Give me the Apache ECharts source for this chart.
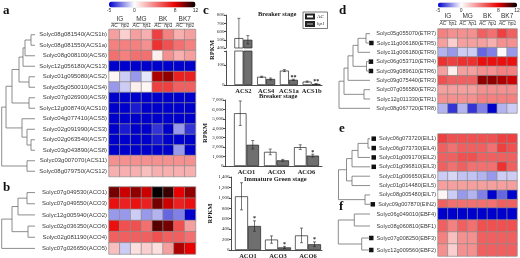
<!DOCTYPE html>
<html>
<head>
<meta charset="utf-8">
<script src="https://cdn.jsdelivr.net/npm/echarts@6/dist/echarts.min.js"></script>
<style>html,body{margin:0;padding:0;background:#fff}#chart{width:520px;height:258px}</style>
</head>
<body>
<div id="chart"></div>
<script>
// ---- data ----
var stageCols = ['AC', 'hp1', 'AC', 'hp1', 'AC', 'hp1', 'AC', 'hp1'];
var stageGroups = ['IG', 'MG', 'BK', 'BK7'];
var colorTicks = [-5, 0, 8, 12];

var acsGenes = ['Solyc08g081540(ACS1b)', 'Solyc08g081550(ACS1a)', 'Solyc08g008100(ACS6)', 'Solyc12g056180(ACS13)',
  'Solyc01g095080(ACS2)', 'Solyc05g050010(ACS4)', 'Solyc07g026900(ACS9)', 'Solyc12g008740(ACS10)',
  'Solyc04g077410(ACS5)', 'Solyc02g091990(ACS3)', 'Solyc02g063540(ACS7)', 'Solyc03g043890(ACS8)',
  'Solyc03g007070(ACS11)', 'Solyc08g079750(ACS12)'];
var acsValues = [
  [3, 1.5, 3, 2.5, 6, 4, 2.5, 3],
  [4, 4, 4, 3.5, 6.5, 5.5, 4.5, 4],
  [4.5, 4, 4.5, 4.5, 0.5, 3.5, 2.5, 3],
  [-5, -5, -5, -5, -5, -5, -5, -5],
  [0.3, -1, -2, -0.5, 9, 9.5, 7, 7],
  [-2, -1, 0.5, 0.3, 6, 6, 5, 5],
  [-5, -5, -5, -5, -5, -5, -5, -5],
  [-5, -5, -4.5, -5, -5, -5, -5, -5],
  [-5, -5, -5, -5, -5, -5, -5, -5],
  [-5, -4.5, -5, -5, -4, -5, -2, -4],
  [-5, -5, -5, -5, -4.5, -5, -5, -5],
  [-5, -5, -5, -5, -5, -5, -2, -5],
  [3.5, 3.5, 3.5, 3.5, 3.5, 3.5, 3.5, 3.5],
  [2.5, 2.5, 2.5, 2, 2.5, 2.5, 2.5, 2.5]
];
// [node, node, join depth]; leaves are 0..n-1, each join adds a node
var acsTree = [[0, 1, 30], [14, 2, 24], [15, 3, 22], [4, 5, 28], [16, 17, 18], [6, 7, 28], [18, 19, 11],
  [10, 11, 30], [9, 21, 26], [8, 22, 21], [20, 23, 5], [12, 13, 26], [24, 25, 0.7]];

var acoGenes = ['Solyc07g049530(ACO1)', 'Solyc07g049550(ACO3)', 'Solyc12g005940(ACO2)',
  'Solyc02g036350(ACO6)', 'Solyc02g081190(ACO4)', 'Solyc07g026650(ACO5)'];
var acoValues = [
  [10, 8.5, 9.5, 8.5, 12, 11, 8, 9.5],
  [7.5, 7, 7.5, 7, 10, 8.5, 7, 7.5],
  [-2, -2, -1, -2, -1.5, -3, -2.5, -5],
  [7.5, 5.5, 5.5, 4.5, 10.5, 10, 5.5, 3],
  [5, 5, 5, 5, 5.5, 5, 5, 4.5],
  [2, -1, 1, 1.5, 1, 3, 9, 8]
];
var acoTree = [[0, 1, 26], [6, 2, 17], [3, 4, 27], [7, 8, 11], [9, 5, 0.7]];

var etrGenes = ['Solyc05g055070(ETR7)', 'Solyc11g006180(ETR5)', 'Solyc11g006180(ETR9)', 'Solyc06g053710(ETR4)',
  'Solyc09g089610(ETR6)', 'Solyc09g075440(ETR3)', 'Solyc07g056580(ETR2)', 'Solyc12g011330(ETR1)',
  'Solyc08g067720(ETR8)'];
var etrMarked = [false, true, false, true, true, false, false, false, false];
var etrValues = [
  [4, 3.5, 3.5, 3.5, 5, 4.5, 6, 5],
  [3, 1.5, 3, 3, 3, 2.5, 3.5, 3.5],
  [-1.5, -2, -1, -1, -3, -2.5, 0.2, -2],
  [6.5, 6, 6.5, 6.5, 7.5, 7.5, 7.5, 7.5],
  [3, 0.5, 3, 3, 3.5, 3.5, 4, 4],
  [5.5, 5, 5, 5, 9.5, 9.5, 9, 8.5],
  [3, 3, 3, 3, 3.5, 3.5, 3.5, 3.5],
  [3.5, 3.5, 3.5, 3.5, 4, 4, 4, 4],
  [-1.5, -4, -1.5, -4, -2.5, -5, -1.5, -1]
];
var etrTree = [[0, 1, 30], [9, 2, 22], [3, 4, 30.5], [10, 11, 17], [12, 5, 12], [6, 7, 28], [13, 14, 8], [15, 8, 3]];

var eilGenes = ['Solyc06g073720(EIL1)', 'Solyc06g073730(EIL4)', 'Solyc01g009170(EIL2)', 'Solyc01g096810(EIL3)',
  'Solyc01g006650(EIL6)', 'Solyc01g014480(EIL5)', 'Solyc08g005480(EIL7)', 'Solyc09g007870(EIN2)'];
var eilMarked = [true, true, true, true, false, false, false, true];
var eilValues = [
  [6, 5.5, 5.5, 5.5, 5.5, 5.5, 6, 6],
  [5, 4.5, 5, 5, 5, 4.5, 6, 5.5],
  [5, 5, 5.5, 5.5, 5, 5, 5, 5],
  [5, 4.5, 5, 4.5, 4.5, 4.5, 6.5, 5],
  [-1, -0.8, -1.2, -1.2, -1.5, -2, -1, -1],
  [3, 3, 3, 3, 3, 3, 3, 3],
  [0.3, -1, -2, -1.5, -2.5, -5, -3, -5],
  [5, 4.5, 4.5, 4.5, 4.5, 4.5, 5, 5]
];
var eilTree = [[0, 1, 32], [8, 2, 22], [9, 3, 16], [4, 5, 16], [10, 11, 10.5], [6, 7, 29], [12, 13, 2.5]];

var ebfGenes = ['Solyc06g049010(EBF4)', 'Solyc08g060810(EBF1)', 'Solyc07g008250(EBF3)', 'Solyc12g009560(EBF2)'];
var ebfMarked = [false, false, true, true];
var ebfValues = [
  [-5, -5, -5, -5, -5, -5, -5, -5],
  [5, 4, 5, 4.5, 5.5, 5.5, 5.5, 5.5],
  [4, 2, 3.5, 3.5, 5, 5, 5, 5],
  [3.5, 1.5, 3.5, 3.5, 5, 5, 5, 5]
];
var ebfTree = [[0, 1, 18.3], [2, 3, 25.7], [4, 5, 2.3]];

var acsBarCats = ['ACS2', 'ACS4', 'ACS1a', 'ACS1b'];
var acsBarAC = [520, 41, 72, 17];
var acsBarHp1 = [500, 30, 26, 5];
var acsBarACErr = [240, 3, 5, 3];
var acsBarHp1Err = [50, 5, 3, 2];
var acsBarStars = ['', '', '**', '**'];

var acoBkCats = ['ACO1', 'ACO3', 'ACO6'];
var acoBkAC = [5600, 1500, 2000];
var acoBkHp1 = [2250, 600, 1100];
var acoBkACErr = [1300, 300, 250];
var acoBkHp1Err = [450, 100, 150];
var acoBkStars = ['', '', '*'];

var acoIgCats = ['ACO1', 'ACO3', 'ACO6'];
var acoIgAC = [1030, 200, 280];
var acoIgHp1 = [460, 50, 110];
var acoIgACErr = [260, 70, 140];
var acoIgHp1Err = [100, 20, 45];
var acoIgStars = ['*', '*', '*'];

// ---- colour ramp: -5 blue, 0 white, 8 red, 12 black ----
var colorAnchors = [[-5, [0, 0, 204]], [0, [255, 255, 255]], [8, [232, 0, 0]], [12, [0, 0, 0]]];
function colorAt(v) {
  for (var i = 0; i < colorAnchors.length - 1; i++) {
    var a = colorAnchors[i], b = colorAnchors[i + 1];
    if (v <= b[0]) {
      var t = (v - a[0]) / (b[0] - a[0]);
      var c = a[1].map(function (x, k) { return Math.round(x + (b[1][k] - x) * t); });
      return 'rgb(' + c.join(',') + ')';
    }
  }
}
var colorStops = [];
for (var cv = -5; cv <= 12; cv++) colorStops.push(colorAt(cv));

// ---- builders ----
var grids = [], xAxes = [], yAxes = [], series = [], visualMaps = [];
function addGrid(g) { g.containLabel = false; g.outerBoundsMode = 'none'; grids.push(g); return grids.length - 1; }
function addX(a) { xAxes.push(a); return xAxes.length - 1; }
function addY(a) { yAxes.push(a); return yAxes.length - 1; }
function addSeries(s) { series.push(s); return series.length - 1; }

var sans = 'Liberation Sans';
var serif = 'Liberation Serif';

function treeLinks(n, merges, leafX) {
  var xs = [], ys = [], out = [];
  for (var i = 0; i < n; i++) { xs.push(leafX); ys.push(i); }
  merges.forEach(function (m) {
    out.push([xs[m[0]], ys[m[0]], xs[m[1]], ys[m[1]], m[2]]);
    xs.push(m[2]);
    ys.push((ys[m[0]] + ys[m[1]]) / 2);
  });
  return out;
}
function renderTree(params, api) {
  var p1 = api.coord([api.value(0), api.value(1)]);
  var m1 = api.coord([api.value(4), api.value(1)]);
  var m2 = api.coord([api.value(4), api.value(3)]);
  var p2 = api.coord([api.value(2), api.value(3)]);
  return { type: 'polyline', shape: { points: [p1, m1, m2, p2] }, style: { stroke: '#707070', lineWidth: 0.8, fill: null } };
}

function heatPanel(p) {
  var g = addGrid(p.box);
  var xi = addX({
    type: 'category', gridIndex: g, data: stageCols, position: 'top', show: !!p.header,
    axisLine: { show: false }, axisTick: { show: false },
    axisLabel: { interval: 0, fontSize: 5, fontStyle: 'italic', fontFamily: sans, color: '#333', margin: p.header ? p.header.sub : 0 }
  });
  var marked = p.marked;
  var yi = addY({
    type: 'category', gridIndex: g, data: p.genes, inverse: true,
    axisLine: { show: false }, axisTick: { show: false },
    axisLabel: {
      interval: 0, fontSize: p.labelSize, fontFamily: sans, color: '#3a3a3a', margin: 2,
      formatter: function (v, i) { return marked && marked[i] ? '{sq| }  ' + v : v; },
      rich: { sq: { width: 4.5, height: 4.5, backgroundColor: '#111' } }
    }
  });
  var data = [];
  p.values.forEach(function (row, r) { row.forEach(function (v, c) { data.push([c, r, v]); }); });
  var si = addSeries({
    type: 'heatmap', xAxisIndex: xi, yAxisIndex: yi, data: data, silent: true,
    itemStyle: { borderColor: '#8c8c8c', borderWidth: 0.7 }, emphasis: { disabled: true }
  });
  if (p.header) {
    var gx = addX({
      type: 'category', gridIndex: g, data: stageGroups, position: 'top', offset: p.header.group,
      axisLine: { show: false }, axisTick: { show: false },
      axisLabel: { interval: 0, fontSize: 6.5, fontFamily: sans, color: '#333', margin: 0 }
    });
    var lineUp = p.header.line;
    addSeries({
      type: 'custom', xAxisIndex: gx, yAxisIndex: yi, silent: true, z: 5,
      data: stageGroups.map(function (s, i) { return [i, 0]; }),
      renderItem: function (params, api) {
        var c = api.coord([api.value(0), 0]);
        var w = api.size([1, 0])[0];
        var y = params.coordSys.y - lineUp;
        return { type: 'line', shape: { x1: c[0] - w / 2 + 2, y1: y, x2: c[0] + w / 2 - 2, y2: y }, style: { stroke: '#444', lineWidth: 0.6 } };
      }
    });
  }
  var tg = addGrid(p.treeBox);
  var tx = addX({ type: 'value', gridIndex: tg, min: 0, max: p.treeBox.width, show: false });
  var ty = addY({ type: 'value', gridIndex: tg, min: -0.5, max: p.genes.length - 0.5, inverse: true, show: false });
  addSeries({
    type: 'custom', xAxisIndex: tx, yAxisIndex: ty, silent: true,
    data: treeLinks(p.genes.length, p.merges, p.treeBox.width), renderItem: renderTree
  });
  return si;
}

function colorBar(box, seriesIdx) {
  visualMaps.push({
    type: 'continuous', min: -5, max: 12, seriesIndex: seriesIdx, orient: 'horizontal',
    left: box.left, top: box.top, itemWidth: box.height, itemHeight: box.width, padding: 0,
    calculable: false, hoverLink: false, text: null, inRange: { color: colorStops }
  });
  var g = addGrid({ left: box.left, top: box.top, width: box.width, height: box.height });
  addX({
    type: 'value', gridIndex: g, min: -5, max: 12, interval: 1,
    axisLine: { show: false }, axisTick: { show: false }, splitLine: { show: false },
    axisLabel: { fontSize: 5, fontFamily: sans, color: '#333', margin: 1,
      formatter: function (v) { return colorTicks.indexOf(v) >= 0 ? String(v) : ''; } }
  });
  addY({ type: 'value', gridIndex: g, min: 0, max: 1, show: false });
}

var axisLineStyle = { color: '#222', width: 0.8 };
function valueAxis(g, min, max, interval, extra) {
  var a = {
    type: 'value', gridIndex: g, min: min, max: max, interval: interval,
    axisLine: { show: true, lineStyle: axisLineStyle },
    axisTick: { show: true, length: 2, lineStyle: axisLineStyle },
    splitLine: { show: false },
    axisLabel: { fontSize: 5, fontFamily: serif, color: '#222', margin: 1.5 }
  };
  return Object.assign(a, extra || {});
}
function nameAxis(g, gap) {
  return {
    type: 'value', gridIndex: g, min: 0, max: 1, name: 'RPKM', nameLocation: 'middle', nameGap: gap, nameRotate: 90,
    nameTextStyle: { fontSize: 6.5, fontWeight: 'bold', fontFamily: serif, color: '#222' },
    axisLine: { show: false }, axisTick: { show: false }, axisLabel: { show: false }, splitLine: { show: false }
  };
}
function catAxis(g, cats, showLabels) {
  return {
    type: 'category', gridIndex: g, data: cats,
    axisLine: { show: false }, axisTick: { show: false },
    axisLabel: { show: showLabels, interval: 0, fontSize: 6.5, fontWeight: 'bold', fontFamily: serif, color: '#222', margin: 2.5 }
  };
}
function errSeries(xi, yi, vals, errs, dx, stars) {
  return {
    type: 'custom', xAxisIndex: xi, yAxisIndex: yi, clip: true, silent: true, z: 4,
    data: vals.map(function (v, i) { return [i, v, errs[i]]; }),
    renderItem: function (params, api) {
      var i = api.value(0), v = api.value(1), e = api.value(2);
      var top = api.coord([i, v + e]), bot = api.coord([i, v - e]);
      var x = top[0] + dx;
      var st = { stroke: '#222', lineWidth: 0.6 };
      var kids = [
        { type: 'line', shape: { x1: x, y1: top[1], x2: x, y2: bot[1] }, style: st },
        { type: 'line', shape: { x1: x - 1.5, y1: top[1], x2: x + 1.5, y2: top[1] }, style: st },
        { type: 'line', shape: { x1: x - 1.5, y1: bot[1], x2: x + 1.5, y2: bot[1] }, style: st }
      ];
      var s = stars && stars[params.dataIndex];
      if (s) kids.push({ type: 'text', style: { text: s, x: x, y: top[1] + 1, align: 'center', verticalAlign: 'bottom', fontSize: 6, fontWeight: 'bold', fontFamily: serif, fill: '#222' } });
      return { type: 'group', children: kids };
    }
  };
}
function barPair(xi, yi, ac, hp, acErr, hpErr, stars, w) {
  addSeries({ type: 'bar', name: 'AC', xAxisIndex: xi, yAxisIndex: yi, data: ac, barWidth: w, barGap: '0%', clip: true, silent: true,
    itemStyle: { color: '#ffffff', borderColor: '#222', borderWidth: 0.7 } });
  addSeries({ type: 'bar', name: 'hp1', xAxisIndex: xi, yAxisIndex: yi, data: hp, barWidth: w, barGap: '0%', clip: true, silent: true,
    itemStyle: { color: '#6f6f6f', borderColor: '#222', borderWidth: 0.7 } });
  addSeries(errSeries(xi, yi, ac, acErr, -w / 2, null));
  addSeries(errSeries(xi, yi, hp, hpErr, w / 2, stars));
}

// ---- heatmaps + trees ----
var hA = heatPanel({ box: { left: 109, top: 29.5, width: 86.5, height: 147 }, treeBox: { left: 1, top: 29.5, width: 34, height: 147 },
  genes: acsGenes, values: acsValues, merges: acsTree, labelSize: 6, header: { sub: 1, group: 7, line: 6.3 } });
var hB = heatPanel({ box: { left: 109, top: 187, width: 86.5, height: 67 }, treeBox: { left: 1, top: 187, width: 34, height: 67 },
  genes: acoGenes, values: acoValues, merges: acoTree, labelSize: 6 });
var hD = heatPanel({ box: { left: 438, top: 29, width: 79, height: 84 }, treeBox: { left: 336, top: 29, width: 34, height: 84 },
  genes: etrGenes, values: etrValues, marked: etrMarked, merges: etrTree, labelSize: 5.6, header: { sub: 2.5, group: 9, line: 8.4 } });
var hE = heatPanel({ box: { left: 438, top: 134, width: 79, height: 75 }, treeBox: { left: 336, top: 134, width: 34, height: 75 },
  genes: eilGenes, values: eilValues, marked: eilMarked, merges: eilTree, labelSize: 5.6 });
var hF = heatPanel({ box: { left: 438, top: 208, width: 79, height: 48 }, treeBox: { left: 336, top: 208, width: 34, height: 48 },
  genes: ebfGenes, values: ebfValues, marked: ebfMarked, merges: ebfTree, labelSize: 5.6 });

colorBar({ left: 109, top: 1.5, width: 86.5, height: 6 }, [hA, hB]);
colorBar({ left: 438, top: 2.5, width: 79, height: 5 }, [hD, hE, hF]);

// ---- c: ACS, breaker stage (broken axis) ----
var f1 = addGrid({ left: 226, top: 15, width: 96, height: 70 });
addX({ type: 'category', gridIndex: f1, data: acsBarCats, axisLine: { show: true, lineStyle: axisLineStyle }, axisTick: { show: false }, axisLabel: { show: false } });
addY(nameAxis(f1, 10));
var u1 = addGrid({ left: 232, top: 15, width: 91, height: 33 });
var u1x = addX(catAxis(u1, acsBarCats, false));
var u1y = addY(valueAxis(u1, 400, 800, 100, { offset: 6 }));
var l1 = addGrid({ left: 232, top: 51, width: 91, height: 34 });
var l1x = addX(catAxis(l1, acsBarCats, true));
var l1y = addY(valueAxis(l1, 0, 170, 100, { offset: 6 }));
yAxes[l1y].axisLabel.formatter = function (v) { return v % 100 === 0 ? String(v) : ''; };
barPair(u1x, u1y, acsBarAC, acsBarHp1, acsBarACErr, acsBarHp1Err, acsBarStars, 9);
barPair(l1x, l1y, acsBarAC, acsBarHp1, acsBarACErr, acsBarHp1Err, acsBarStars, 9);

// ---- c: ACO, breaker stage ----
var f2 = addGrid({ left: 225, top: 100, width: 97, height: 66 });
addX({ type: 'category', gridIndex: f2, data: acoBkCats, axisLine: { show: true, lineStyle: axisLineStyle }, axisTick: { show: false }, axisLabel: { show: false } });
addY(valueAxis(f2, 0, 7000, 1000, { name: 'RPKM', nameLocation: 'middle', nameGap: 14, nameRotate: 90,
  nameTextStyle: { fontSize: 6.5, fontWeight: 'bold', fontFamily: serif, color: '#222' } }));
var p2 = addGrid({ left: 231.5, top: 100, width: 90, height: 66 });
var p2x = addX(catAxis(p2, acoBkCats, true));
var p2y = addY({ type: 'value', gridIndex: p2, min: 0, max: 7000, show: false });
barPair(p2x, p2y, acoBkAC, acoBkHp1, acoBkACErr, acoBkHp1Err, acoBkStars, 12.5);

// ---- c: ACO, immature green stage ----
var f3 = addGrid({ left: 231, top: 177, width: 91, height: 73 });
addX({ type: 'category', gridIndex: f3, data: acoIgCats, axisLine: { show: true, lineStyle: axisLineStyle }, axisTick: { show: false }, axisLabel: { show: false } });
addY(valueAxis(f3, 0, 1400, 200, { name: 'RPKM', nameLocation: 'middle', nameGap: 17, nameRotate: 90,
  nameTextStyle: { fontSize: 6.5, fontWeight: 'bold', fontFamily: serif, color: '#222' } }));
var p3 = addGrid({ left: 233, top: 177, width: 90, height: 73 });
var p3x = addX(catAxis(p3, acoIgCats, true));
var p3y = addY({ type: 'value', gridIndex: p3, min: 0, max: 1400, show: false });
barPair(p3x, p3y, acoIgAC, acoIgHp1, acoIgACErr, acoIgHp1Err, acoIgStars, 13);

var letter = { fontSize: 13, fontWeight: 'bold', fontFamily: serif, color: '#111' };
var stage = { fontSize: 6.5, fontWeight: 'bold', fontFamily: serif, color: '#222' };
function ttl(text, left, top, style) { return { text: text, left: left, top: top, padding: 0, textStyle: style }; }

var chart = echarts.init(document.getElementById('chart'));
chart.setOption({
  animation: false,
  title: [
    ttl('a', 3, 4, letter), ttl('b', 3, 181, letter), ttl('c', 203, 4, letter),
    ttl('d', 339, 4, letter), ttl('e', 339, 122, letter), ttl('f', 339, 200, letter),
    ttl('Breaker stage', 258, 11, stage), ttl('Breaker stage', 259, 93, stage), ttl('Immature Green stage', 244, 176, stage)
  ],
  legend: {
    data: ['AC', 'hp1'], left: 303, top: 12, orient: 'vertical', icon: 'rect', selectedMode: false,
    itemWidth: 8, itemHeight: 4, itemGap: 1.5, padding: [1.5, 3, 1.5, 2],
    borderColor: '#444', borderWidth: 0.7,
    formatter: function (n) { return n === 'hp1' ? '{i|hp1}' : n; },
    textStyle: { fontSize: 5, fontFamily: serif, color: '#222', padding: [0, 0, 0, -2], rich: { i: { fontStyle: 'italic', fontSize: 5, fontFamily: serif } } }
  },
  grid: grids,
  xAxis: xAxes,
  yAxis: yAxes,
  visualMap: visualMaps,
  series: series
});
</script>
</body>
</html>
